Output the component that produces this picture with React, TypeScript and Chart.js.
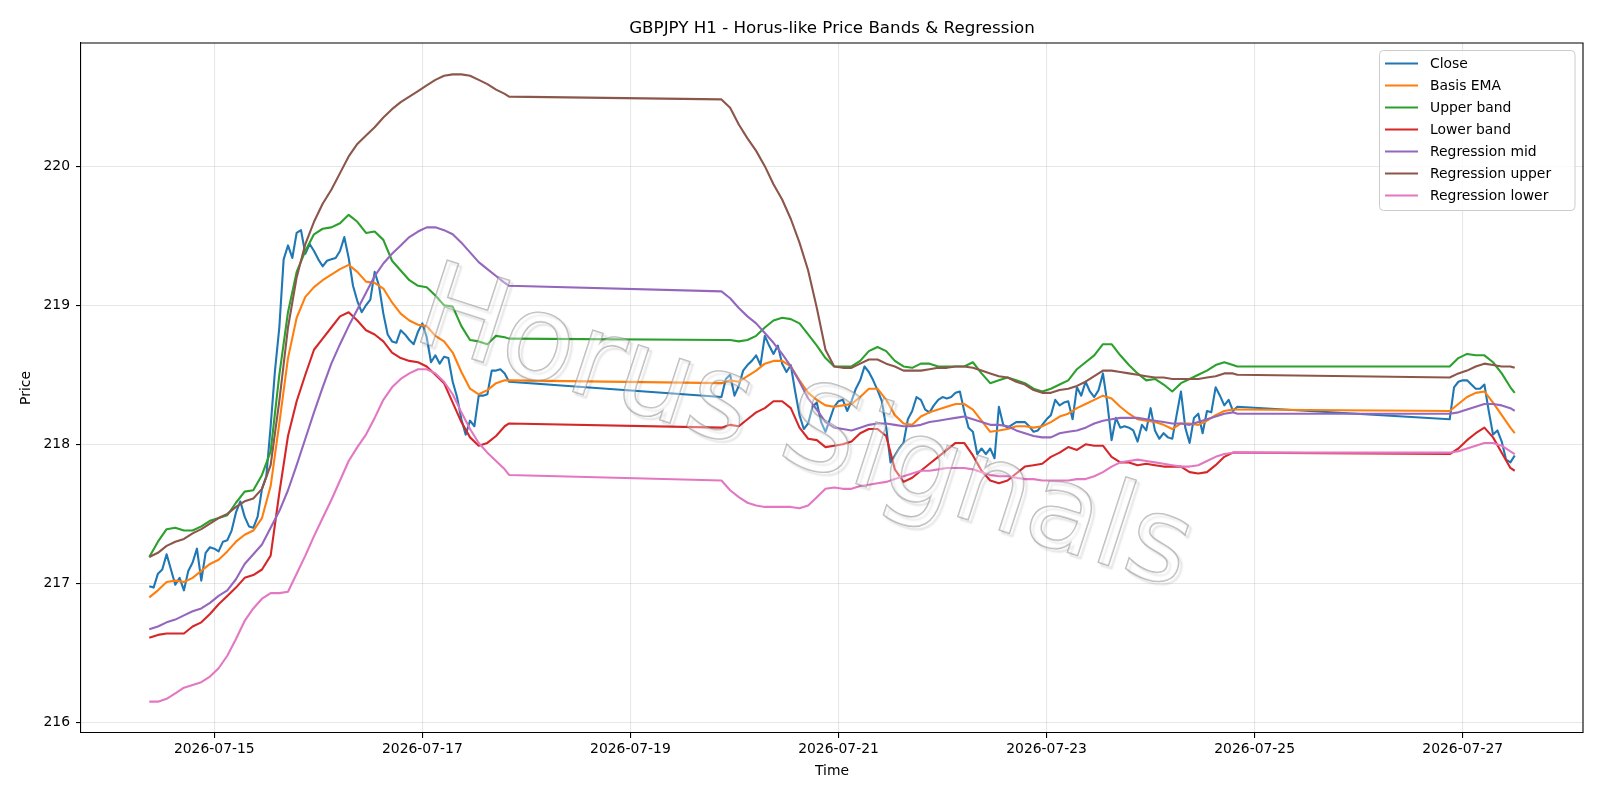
import React, { useEffect, useRef } from "react";
import { Chart, registerables } from "chart.js";

Chart.register(...registerables);

const TITLE = "GBPJPY H1 - Horus-like Price Bands & Regression";
const X_LABEL = "Time";
const Y_LABEL = "Price";
const WATERMARK = "Horus Signals";

// Hours are counted from 2026-07-14 00:00 UTC; each session is [first bar, last bar].
const ORIGIN = Date.UTC(2026, 6, 14);
const sessions: [number, number][] = [
  [9, 92],
  [141, 260],
  [309, 324],
];

const seriesNames = [
  "Close",
  "Basis EMA",
  "Upper band",
  "Lower band",
  "Regression mid",
  "Regression upper",
  "Regression lower",
];
const seriesColors = ["#1f77b4", "#ff7f0e", "#2ca02c", "#d62728", "#9467bd", "#8c564b", "#e377c2"];

// hourly closes
const closeValues = [
  216.98, 216.97, 217.07, 217.1, 217.21, 217.1, 216.99, 217.04, 216.95, 217.09,
  217.15, 217.25, 217.02, 217.22, 217.26, 217.25, 217.23, 217.3, 217.31, 217.38,
  217.51, 217.59, 217.48, 217.41, 217.4, 217.48, 217.68, 217.77, 218.13, 218.53,
  218.84, 219.33, 219.43, 219.34, 219.52, 219.54, 219.37, 219.44, 219.39, 219.33,
  219.28, 219.32, 219.33, 219.34, 219.39, 219.49, 219.34, 219.14, 219.03, 218.95,
  219.0, 219.04, 219.24, 219.14, 218.94, 218.79, 218.74, 218.73, 218.82, 218.79,
  218.75, 218.72, 218.81, 218.87, 218.77, 218.59, 218.64, 218.58, 218.63, 218.62,
  218.45, 218.34, 218.18, 218.07, 218.17, 218.13, 218.35, 218.35, 218.36, 218.53,
  218.53, 218.54, 218.51, 218.45,
  218.34, 218.47, 218.5, 218.35, 218.42, 218.53, 218.57, 218.6, 218.64, 218.57,
  218.78, 218.71, 218.65, 218.71, 218.58, 218.52, 218.57, 218.38, 218.21, 218.11,
  218.15, 218.27, 218.3, 218.16, 218.09, 218.18, 218.27, 218.31, 218.32, 218.24,
  218.31, 218.4, 218.46, 218.56, 218.52, 218.46, 218.39, 218.31, 218.12, 217.87,
  217.92, 217.97, 218.01, 218.18, 218.24, 218.34, 218.32, 218.25, 218.23, 218.28,
  218.32, 218.34, 218.33, 218.34, 218.37, 218.38, 218.24, 218.12, 218.09, 217.93,
  217.97, 217.93, 217.97, 217.9, 218.27, 218.14, 218.12, 218.14, 218.16, 218.16,
  218.16, 218.13, 218.09, 218.1, 218.14, 218.18, 218.21, 218.32, 218.28, 218.3,
  218.31, 218.18, 218.41, 218.35, 218.45, 218.38, 218.34, 218.39, 218.51, 218.3,
  218.03, 218.19, 218.12, 218.13, 218.12, 218.1, 218.02, 218.14, 218.1, 218.26,
  218.1, 218.04, 218.08, 218.05, 218.04, 218.21, 218.38, 218.12, 218.01, 218.19,
  218.22, 218.08, 218.24, 218.23, 218.41, 218.35, 218.28, 218.32, 218.24, 218.27,
  218.18, 218.41, 218.45, 218.46, 218.46, 218.43, 218.4, 218.4, 218.43, 218.24,
  218.07, 218.1, 218.02, 217.89, 217.87, 217.92,
];

// band and regression lines, sampled every two hours plus each session's last bar
const basisValues = [
  216.9, 216.95, 217.01, 217.02, 217.01, 217.04, 217.09, 217.14, 217.17, 217.23,
  217.3, 217.35, 217.38, 217.47, 217.7, 218.15, 218.62, 218.91, 219.06, 219.13,
  219.18, 219.22, 219.26, 219.29, 219.24, 219.17, 219.16, 219.12, 219.02, 218.94,
  218.89, 218.86, 218.85, 218.78, 218.74, 218.66, 218.52, 218.4, 218.36, 218.39,
  218.44, 218.46, 218.46,
  218.44, 218.46, 218.45, 218.49, 218.53, 218.58, 218.6, 218.6, 218.56, 218.46,
  218.37, 218.32, 218.28, 218.27, 218.28, 218.29, 218.34, 218.4, 218.4, 218.32,
  218.21, 218.15, 218.14, 218.2, 218.23, 218.25, 218.27, 218.29, 218.29, 218.25,
  218.17, 218.09, 218.1, 218.11, 218.13, 218.13, 218.12, 218.13, 218.16, 218.2,
  218.22, 218.26, 218.29, 218.32, 218.35, 218.33, 218.27, 218.22, 218.18, 218.17,
  218.16, 218.14, 218.11, 218.15, 218.15, 218.14, 218.17, 218.21, 218.24, 218.25,
  218.25,
  218.24, 218.29, 218.34, 218.37, 218.38, 218.3, 218.21, 218.12, 218.08,
];

const upperValues = [
  217.19, 217.3, 217.39, 217.4, 217.38, 217.38, 217.41, 217.45, 217.47, 217.49,
  217.58, 217.66, 217.67, 217.78, 217.95, 218.5, 218.95, 219.24, 219.39, 219.51,
  219.55, 219.56, 219.59, 219.65, 219.6, 219.52, 219.53, 219.47, 219.32, 219.25,
  219.18, 219.14, 219.13, 219.07, 219.0, 218.99, 218.85, 218.75, 218.74, 218.72,
  218.78, 218.77, 218.76,
  218.75, 218.75, 218.74, 218.75, 218.78, 218.84, 218.89, 218.91, 218.9, 218.87,
  218.79, 218.71, 218.62, 218.56, 218.56, 218.56, 218.6, 218.67, 218.7, 218.67,
  218.6, 218.56, 218.55, 218.58, 218.58, 218.56, 218.56, 218.56, 218.56, 218.59,
  218.51, 218.44, 218.46, 218.48, 218.46, 218.44, 218.4, 218.38, 218.4, 218.43,
  218.46, 218.54, 218.59, 218.64, 218.72, 218.72, 218.64, 218.57, 218.51, 218.46,
  218.47, 218.43, 218.38, 218.44, 218.47, 218.5, 218.53, 218.57, 218.59, 218.57,
  218.56,
  218.56, 218.62, 218.65, 218.64, 218.64, 218.59, 218.51, 218.41, 218.37,
];

const lowerValues = [
  216.61, 216.63, 216.64, 216.64, 216.64, 216.69, 216.72, 216.78, 216.85, 216.91,
  216.97, 217.04, 217.06, 217.1, 217.2, 217.65, 218.06, 218.31, 218.5, 218.68,
  218.76, 218.84, 218.92, 218.95, 218.89, 218.82, 218.79, 218.74, 218.66, 218.62,
  218.6, 218.59, 218.56, 218.5, 218.44, 218.3, 218.16, 218.05, 217.99, 218.01,
  218.06, 218.13, 218.15,
  218.12, 218.14, 218.13, 218.18, 218.23, 218.26, 218.31, 218.31, 218.26, 218.12,
  218.04, 218.03, 217.98, 217.99, 218.0, 218.02, 218.08, 218.11, 218.11, 218.06,
  217.82, 217.73, 217.76, 217.81, 217.86, 217.91, 217.96, 218.01, 218.01, 217.92,
  217.81, 217.74, 217.72, 217.74, 217.79, 217.84, 217.85, 217.86, 217.91, 217.94,
  217.98, 217.96, 218.0, 217.99, 217.99, 217.91, 217.87, 217.87, 217.85, 217.86,
  217.85, 217.84, 217.84, 217.84, 217.8, 217.79, 217.8, 217.85, 217.91, 217.94,
  217.94,
  217.93, 217.97, 218.03, 218.08, 218.12, 218.05, 217.94, 217.83, 217.81,
];

const regMidValues = [
  216.67, 216.69, 216.72, 216.74, 216.77, 216.8, 216.82, 216.86, 216.91, 216.95,
  217.03, 217.14, 217.21, 217.28, 217.4, 217.52, 217.67, 217.85, 218.04, 218.23,
  218.41, 218.58, 218.72, 218.85, 218.97, 219.09, 219.21, 219.3, 219.37, 219.43,
  219.49, 219.53, 219.56, 219.56, 219.54, 219.51, 219.45, 219.38, 219.31, 219.26,
  219.21, 219.16, 219.14,
  219.1, 219.05, 218.98, 218.92, 218.87, 218.8, 218.73, 218.65, 218.56, 218.45,
  218.33, 218.25, 218.16, 218.12, 218.11, 218.1, 218.12, 218.14, 218.15, 218.15,
  218.14, 218.13, 218.13, 218.14, 218.16, 218.17, 218.18, 218.19, 218.2, 218.18,
  218.16, 218.14, 218.14, 218.13, 218.1, 218.08, 218.06, 218.05, 218.05, 218.08,
  218.09, 218.1, 218.12, 218.15, 218.17, 218.18, 218.19, 218.19, 218.19, 218.18,
  218.17, 218.16, 218.15, 218.15, 218.14, 218.16, 218.18, 218.2, 218.22, 218.23,
  218.22,
  218.22, 218.23, 218.25, 218.27, 218.29, 218.29, 218.28, 218.26, 218.24,
];

const regUpperValues = [
  217.19, 217.22, 217.27, 217.3, 217.32, 217.36, 217.39, 217.43, 217.47, 217.5,
  217.55, 217.59, 217.61, 217.68, 217.85, 218.31, 218.84, 219.2, 219.44, 219.6,
  219.73, 219.83, 219.95, 220.07, 220.16, 220.22, 220.28, 220.35, 220.41, 220.46,
  220.5, 220.54, 220.58, 220.62, 220.65, 220.66, 220.66, 220.65, 220.62, 220.59,
  220.55, 220.52, 220.5,
  220.48, 220.42, 220.3, 220.2, 220.11, 220.0, 219.87, 219.76, 219.62, 219.45,
  219.25, 218.98, 218.68, 218.56, 218.55, 218.55, 218.58, 218.61, 218.61, 218.58,
  218.56, 218.53, 218.53, 218.53, 218.54, 218.55, 218.55, 218.56, 218.56, 218.55,
  218.53, 218.51, 218.49, 218.48, 218.45, 218.43, 218.39, 218.37, 218.37, 218.39,
  218.4, 218.42, 218.45, 218.49, 218.53, 218.53, 218.52, 218.51, 218.5, 218.49,
  218.48, 218.48, 218.47, 218.47, 218.47, 218.47, 218.48, 218.49, 218.51, 218.51,
  218.5,
  218.48, 218.51, 218.53, 218.56, 218.58, 218.57, 218.56, 218.56, 218.55,
];

const regLowerValues = [
  216.15, 216.15, 216.17, 216.21, 216.25, 216.27, 216.29, 216.33, 216.39, 216.48,
  216.6, 216.73, 216.82, 216.89, 216.93, 216.93, 216.94, 217.07, 217.2, 217.34,
  217.47, 217.6, 217.74, 217.88, 217.98, 218.07, 218.19, 218.32, 218.41, 218.47,
  218.51, 218.54, 218.54, 218.51, 218.45, 218.36, 218.23, 218.11, 218.01, 217.94,
  217.88, 217.82, 217.78,
  217.74, 217.67, 217.62, 217.58, 217.56, 217.55, 217.55, 217.55, 217.55, 217.54,
  217.56, 217.62, 217.68, 217.69, 217.68, 217.68, 217.7, 217.71, 217.72, 217.73,
  217.75, 217.77, 217.79, 217.81, 217.81, 217.82, 217.83, 217.83, 217.83, 217.82,
  217.8, 217.78, 217.77, 217.77, 217.76, 217.75, 217.75, 217.74, 217.74, 217.74,
  217.74, 217.75, 217.75, 217.77, 217.8, 217.84, 217.87, 217.88, 217.89, 217.88,
  217.87, 217.86, 217.85, 217.84, 217.84, 217.85, 217.88, 217.91, 217.93, 217.94,
  217.94,
  217.94, 217.95, 217.97, 217.99, 218.01, 218.01, 217.99, 217.95, 217.93,
];

const xTickHours = [24, 72, 120, 168, 216, 264, 312];
const yTickValues = [216, 217, 218, 219, 220];

function sessionHours(step: number): number[] {
  const out: number[] = [];
  for (const [first, last] of sessions) {
    for (let h = first; h < last; h += step) out.push(h);
    out.push(last);
  }
  return out;
}

const closeHours = sessionHours(1);
const bandHours = sessionHours(2);

const FONT = "'DejaVu Sans', 'Liberation Sans', sans-serif";
const PLOT = { left: 81, top: 43, right: 1583, bottom: 733 };

function dateLabel(h: number): string {
  return new Date(ORIGIN + h * 3600 * 1000).toISOString().slice(0, 10);
}

const decorPlugin = {
  id: "decor",
  afterDatasetsDraw(chart: any) {
    const { ctx, chartArea } = chart;
    // watermark, tilted clockwise across the plot
    ctx.save();
    ctx.beginPath();
    ctx.rect(chartArea.left, chartArea.top, chartArea.right - chartArea.left, chartArea.bottom - chartArea.top);
    ctx.clip();
    ctx.translate(803, 434);
    ctx.rotate((18 * Math.PI) / 180);
    ctx.font = `118px ${FONT}`;
    ctx.textAlign = "center";
    ctx.textBaseline = "middle";
    ctx.shadowColor = "rgba(0,0,0,0.26)";
    ctx.shadowOffsetX = 3;
    ctx.shadowOffsetY = 3;
    ctx.shadowBlur = 2;
    ctx.lineWidth = 1.6;
    ctx.strokeStyle = "rgba(125,125,125,0.55)";
    ctx.strokeText(WATERMARK, 0, 0);
    ctx.shadowColor = "transparent";
    ctx.fillStyle = "rgba(255,255,255,0.35)";
    ctx.fillText(WATERMARK, 0, 0);
    ctx.restore();

    // top and right spines
    ctx.save();
    ctx.strokeStyle = "#000";
    ctx.lineWidth = 1.1;
    ctx.beginPath();
    ctx.moveTo(chartArea.left, chartArea.top);
    ctx.lineTo(chartArea.right, chartArea.top);
    ctx.lineTo(chartArea.right, chartArea.bottom);
    ctx.stroke();
    ctx.restore();
  },
  afterDraw(chart: any) {
    const { ctx, chartArea } = chart;
    const cx = (chartArea.left + chartArea.right) / 2;
    const cy = (chartArea.top + chartArea.bottom) / 2;
    ctx.save();
    ctx.fillStyle = "#000";
    ctx.textAlign = "center";
    ctx.textBaseline = "alphabetic";
    ctx.font = `16.7px ${FONT}`;
    ctx.fillText(TITLE, cx, 33);
    ctx.font = `13.9px ${FONT}`;
    ctx.fillText(X_LABEL, cx, 775);
    ctx.translate(30, cy);
    ctx.rotate(-Math.PI / 2);
    ctx.fillText(Y_LABEL, 0, 0);
    ctx.restore();

    // legend
    const box = { x: 1379.5, y: 50.5, w: 195.5, h: 160 };
    ctx.save();
    ctx.beginPath();
    if (ctx.roundRect) ctx.roundRect(box.x, box.y, box.w, box.h, 4);
    else ctx.rect(box.x, box.y, box.w, box.h);
    ctx.fillStyle = "rgba(255,255,255,0.8)";
    ctx.fill();
    ctx.strokeStyle = "#cccccc";
    ctx.lineWidth = 1;
    ctx.stroke();
    ctx.font = `13.9px ${FONT}`;
    ctx.textAlign = "left";
    ctx.textBaseline = "middle";
    chart.data.datasets.forEach((ds: any, i: number) => {
      const y = 63.5 + i * 22;
      ctx.strokeStyle = ds.borderColor;
      ctx.lineWidth = 2.1;
      ctx.beginPath();
      ctx.moveTo(1385, y);
      ctx.lineTo(1418, y);
      ctx.stroke();
      ctx.fillStyle = "#000";
      ctx.fillText(ds.label, 1430, y + 0.5);
    });
    ctx.restore();
  },
};

export default function App() {
  const canvasRef = useRef<HTMLCanvasElement | null>(null);

  useEffect(() => {
    const canvas = canvasRef.current;
    if (!canvas) return;

    const valueLists = [closeValues, basisValues, upperValues, lowerValues, regMidValues, regUpperValues, regLowerValues];
    const all = valueLists.flat();
    const lo = Math.min(...all);
    const hi = Math.max(...all);
    const yPad = (hi - lo) * 0.05;
    const xLo = closeHours[0];
    const xHi = closeHours[closeHours.length - 1];
    const xPad = (xHi - xLo) * 0.05;

    const datasets = valueLists.map((vals, i) => {
      const hours = i === 0 ? closeHours : bandHours;
      return {
        label: seriesNames[i],
        data: hours.map((h, k) => ({ x: h, y: vals[k] })),
        borderColor: seriesColors[i],
        backgroundColor: seriesColors[i],
        borderWidth: 2.1,
        pointRadius: 0,
        pointHoverRadius: 0,
        tension: 0,
        fill: false,
        borderJoinStyle: "round" as const,
        order: valueLists.length - 1 - i,
      };
    });

    const gridColor = "rgba(176,176,176,0.3)";
    const tickFont = { family: FONT, size: 13.9 };

    const chart = new Chart(canvas, {
      type: "line",
      data: { datasets },
      options: {
        animation: false,
        responsive: false,
        devicePixelRatio: 1,
        events: [],
        layout: { padding: { left: 0, top: PLOT.top, right: 1600 - PLOT.right, bottom: 0 } },
        plugins: { legend: { display: false }, title: { display: false }, tooltip: { enabled: false } },
        scales: {
          x: {
            type: "linear",
            min: xLo - xPad,
            max: xHi + xPad,
            afterBuildTicks: (s: any) => {
              s.ticks = xTickHours.map((v) => ({ value: v }));
            },
            afterFit: (s: any) => {
              s.height = 800 - PLOT.bottom;
            },
            ticks: {
              autoSkip: false,
              maxRotation: 0,
              padding: 3,
              color: "#000",
              font: tickFont,
              callback: (v: any) => dateLabel(Number(v)),
            },
            grid: { color: gridColor, lineWidth: 1.1, tickColor: "#000", tickLength: 5, tickWidth: 1.1 },
            border: { display: true, color: "#000", width: 1.1 },
          },
          y: {
            type: "linear",
            min: lo - yPad,
            max: hi + yPad,
            afterBuildTicks: (s: any) => {
              s.ticks = yTickValues.map((v) => ({ value: v }));
            },
            afterFit: (s: any) => {
              s.width = PLOT.left;
            },
            ticks: {
              padding: 6,
              color: "#000",
              font: tickFont,
              callback: (v: any) => String(v),
            },
            grid: { color: gridColor, lineWidth: 1.1, tickColor: "#000", tickLength: 5, tickWidth: 1.1 },
            border: { display: true, color: "#000", width: 1.1 },
          },
        },
      },
      plugins: [decorPlugin],
    } as any);

    return () => chart.destroy();
  }, []);

  return (
    <div style={{ position: "fixed", left: 0, top: 0, width: 1600, height: 800, background: "#fff" }}>
      <canvas ref={canvasRef} width={1600} height={800} style={{ width: 1600, height: 800, display: "block" }} />
    </div>
  );
}
